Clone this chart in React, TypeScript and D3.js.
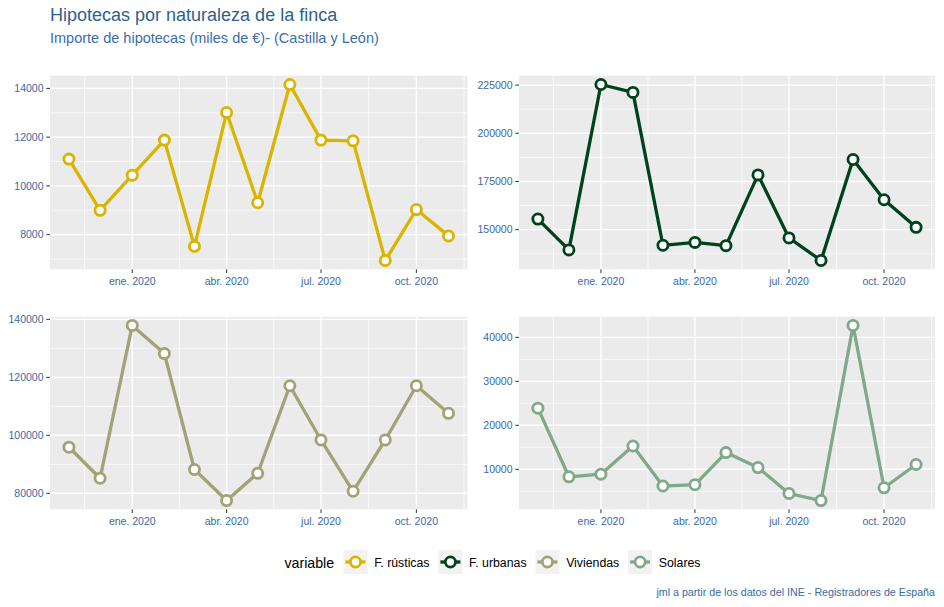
import React from "react";
import * as d3 from "d3";

const months: string[] = [
  "2019-11-01", "2019-12-01", "2020-01-01", "2020-02-01", "2020-03-01", "2020-04-01",
  "2020-05-01", "2020-06-01", "2020-07-01", "2020-08-01", "2020-09-01", "2020-10-01", "2020-11-01",
];
const seriesNames: string[] = ["F. rústicas", "F. urbanas", "Viviendas", "Solares"];
const seriesColors: string[] = ["#D9B400", "#00421C", "#A2A277", "#80A88A"];

const rusticas: number[] = [11100, 9000, 10440, 11880, 7520, 13010, 9310, 14160, 11880, 11850, 6940, 9030, 7950];
const urbanas: number[] = [155500, 139500, 225300, 221200, 141900, 143400, 141700, 178400, 145700, 134000, 186400, 165500, 151200];
const viviendas: number[] = [95900, 85200, 137900, 128200, 88200, 77500, 86900, 117100, 98400, 80700, 98400, 117100, 107600];
const solares: number[] = [23900, 8300, 8900, 15300, 6200, 6500, 13800, 10400, 4500, 2900, 42700, 5800, 11100];

const ticksRusticas: number[] = [8000, 10000, 12000, 14000];
const ticksUrbanas: number[] = [150000, 175000, 200000, 225000];
const ticksViviendas: number[] = [80000, 100000, 120000, 140000];
const ticksSolares: number[] = [10000, 20000, 30000, 40000];

const xTickDates: string[] = ["2020-01-01", "2020-04-01", "2020-07-01", "2020-10-01"];
const xTickLabels: string[] = ["ene. 2020", "abr. 2020", "jul. 2020", "oct. 2020"];
const xBreaksExtended: string[] = ["2019-10-01", "2020-01-01", "2020-04-01", "2020-07-01", "2020-10-01", "2021-01-01"];

const titleText = "Hipotecas por naturaleza de la finca";
const subtitleText = "Importe de hipotecas (miles de €)- (Castilla y León)";
const captionText = "jml a partir de los datos del INE - Registradores de España";
const legendTitle = "variable";

const FONT = "'Liberation Sans', Arial, Helvetica, sans-serif";
const AXIS_COL = "#3A6AA0";
const parse = d3.timeParse("%Y-%m-%d");

const W = 944, H = 607;
const panels = [
  { values: rusticas, ticks: ticksRusticas, x0: 50, x1: 467.5, y0: 75.7, y1: 269.3 },
  { values: urbanas, ticks: ticksUrbanas, x0: 519, x1: 935, y0: 75.7, y1: 269.3 },
  { values: viviendas, ticks: ticksViviendas, x0: 50, x1: 467.5, y0: 316.7, y1: 509.3 },
  { values: solares, ticks: ticksSolares, x0: 519, x1: 935, y0: 316.7, y1: 509.3 },
];

const LINE_W = 3.3, PT_R = 5.1, PT_W = 2.8;

function measure(text: string, font: string): number {
  const c = document.createElement("canvas").getContext("2d");
  if (!c) return text.length * 6;
  c.font = font;
  return c.measureText(text).width;
}

function Panel({ idx }: { idx: number }) {
  const p = panels[idx];
  const dates = months.map((m) => parse(m) as Date);
  const [dMin, dMax] = d3.extent(dates) as [Date, Date];
  const span = +dMax - +dMin;
  const x = d3.scaleTime()
    .domain([new Date(+dMin - span * 0.05), new Date(+dMax + span * 0.05)])
    .range([p.x0, p.x1]);
  const [vMin, vMax] = d3.extent(p.values) as [number, number];
  const vr = vMax - vMin;
  const y = d3.scaleLinear().domain([vMin - vr * 0.05, vMax + vr * 0.05]).range([p.y1, p.y0]);
  const [yLo, yHi] = y.domain();
  const step = p.ticks[1] - p.ticks[0];
  const ext = [p.ticks[0] - step, ...p.ticks, p.ticks[p.ticks.length - 1] + step];
  const yMinor = d3.pairs(ext).map(([a, b]) => (a + b) / 2).filter((v) => v >= yLo && v <= yHi);
  const [xLo, xHi] = x.domain();
  const xb = xBreaksExtended.map((s) => parse(s) as Date);
  const xMinor = d3.pairs(xb).map(([a, b]) => new Date((+a + +b) / 2)).filter((d) => d >= xLo && d <= xHi);
  const xMajor = xTickDates.map((s) => parse(s) as Date);
  const color = seriesColors[idx];
  const line = d3.line<number>().x((_, i) => x(dates[i])).y((v) => y(v));

  return (
    <g>
      <rect x={p.x0} y={p.y0} width={p.x1 - p.x0} height={p.y1 - p.y0} fill="#EBEBEB" />
      {yMinor.map((v, i) => (
        <line key={"ym" + i} x1={p.x0} x2={p.x1} y1={y(v)} y2={y(v)} stroke="#fff" strokeWidth={0.7} />
      ))}
      {xMinor.map((d, i) => (
        <line key={"xm" + i} x1={x(d)} x2={x(d)} y1={p.y0} y2={p.y1} stroke="#fff" strokeWidth={0.7} />
      ))}
      {p.ticks.map((v, i) => (
        <line key={"yM" + i} x1={p.x0} x2={p.x1} y1={y(v)} y2={y(v)} stroke="#fff" strokeWidth={1.4} />
      ))}
      {xMajor.map((d, i) => (
        <line key={"xM" + i} x1={x(d)} x2={x(d)} y1={p.y0} y2={p.y1} stroke="#fff" strokeWidth={1.4} />
      ))}
      <path d={line(p.values) || ""} fill="none" stroke={color} strokeWidth={LINE_W} strokeLinejoin="round" />
      {p.values.map((v, i) => (
        <circle key={"c" + i} cx={x(dates[i])} cy={y(v)} r={PT_R} fill="#fff" stroke={color} strokeWidth={PT_W} />
      ))}
      {p.ticks.map((v, i) => (
        <g key={"yt" + i}>
          <line x1={p.x0 - 3.7} x2={p.x0} y1={y(v)} y2={y(v)} stroke="#333" strokeWidth={1} />
          <text x={p.x0 - 6.5} y={y(v)} dy="0.35em" textAnchor="end" fontSize={10.5} fill={AXIS_COL} fontFamily={FONT}>
            {String(v)}
          </text>
        </g>
      ))}
      {xMajor.map((d, i) => (
        <g key={"xt" + i}>
          <line x1={x(d)} x2={x(d)} y1={p.y1} y2={p.y1 + 3.7} stroke="#333" strokeWidth={1} />
          <text x={x(d)} y={p.y1 + 15.5} textAnchor="middle" fontSize={10.5} fill={AXIS_COL} fontFamily={FONT}>
            {xTickLabels[i]}
          </text>
        </g>
      ))}
    </g>
  );
}

function Legend() {
  const titleFont = `14.2px ${FONT}`;
  const labFont = `12.3px ${FONT}`;
  const tw = measure(legendTitle, titleFont);
  const lw = seriesNames.map((s) => measure(s, labFont));
  const key = 24, gapTitle = 9.3, gapKey = 6.7, gapItem = 8.9;
  const total = tw + gapTitle + d3.sum(lw) + seriesNames.length * (key + gapKey) + (seriesNames.length - 1) * gapItem;
  const cx = (50 + 935) / 2;
  let cur = cx - total / 2;
  const titleX = cur;
  cur += tw + gapTitle;
  const items = seriesNames.map((s, i) => {
    const kx = cur;
    const lx = kx + key + gapKey;
    cur = lx + lw[i] + gapItem;
    return { s, kx, lx, color: seriesColors[i] };
  });
  const ky = 550, kc = ky + key / 2;
  return (
    <g>
      <text x={titleX} y={567.5} fontSize={14.2} fill="#000" fontFamily={FONT}>{legendTitle}</text>
      {items.map((it, i) => (
        <g key={i}>
          <rect x={it.kx} y={ky} width={key} height={key} fill="#F2F2F2" />
          <line x1={it.kx + 2} x2={it.kx + key - 2} y1={kc} y2={kc} stroke={it.color} strokeWidth={LINE_W} />
          <circle cx={it.kx + key / 2} cy={kc} r={PT_R} fill="#fff" stroke={it.color} strokeWidth={PT_W} />
          <text x={it.lx} y={566.8} fontSize={12.3} fill="#000" fontFamily={FONT}>{it.s}</text>
        </g>
      ))}
    </g>
  );
}

export default function App() {
  return (
    <svg width={W} height={H} style={{ position: "absolute", left: 0, top: 0, background: "#fff" }}>
      <rect x={0} y={0} width={W} height={H} fill="#fff" />
      <text x={50} y={20.7} fontSize={18} fill="#2F5F8F" fontFamily={FONT}>{titleText}</text>
      <text x={50} y={42.7} fontSize={14.5} fill="#3A6EA8" fontFamily={FONT}>{subtitleText}</text>
      {panels.map((_, i) => <Panel key={i} idx={i} />)}
      <Legend />
      <text x={935} y={596} textAnchor="end" fontSize={10.7} fill={AXIS_COL} fontFamily={FONT}>{captionText}</text>
    </svg>
  );
}
